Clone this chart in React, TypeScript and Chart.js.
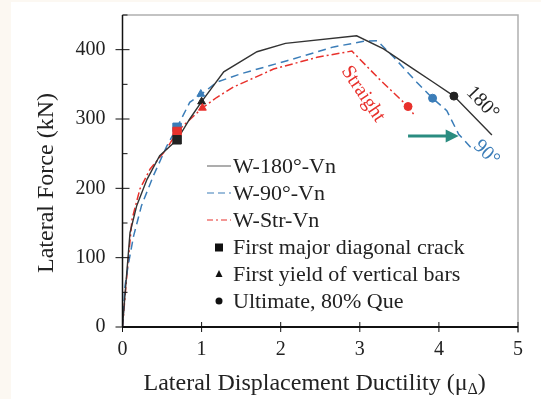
import React, { useEffect, useRef } from "react";
import { Chart, registerables } from "chart.js";
Chart.register(...registerables);

// W-180°-Vn (solid black)
const x180 = [0, 0.03, 0.095, 0.18, 0.31, 0.47, 0.69, 0.85, 1.0, 1.28, 1.7, 2.06, 2.96, 3.3, 3.68, 3.93, 4.19, 4.67];
const y180 = [0, 44, 136, 175, 213, 247, 270, 300, 325, 368, 397, 409, 420, 401, 372, 353, 333, 277];
// W-90°-Vn (dashed blue)
const x90 = [0, 0.03, 0.07, 0.14, 0.24, 0.39, 0.56, 0.69, 0.85, 1.0, 1.19, 1.49, 2.08, 2.67, 3.05, 3.22, 3.43, 3.72, 3.92, 4.1, 4.25, 4.42];
const y90 = [0, 58, 88, 131, 175, 218, 261, 288, 324, 336, 353, 365, 384, 404, 412, 413, 389, 353, 330, 312, 278, 257];
// W-Str-Vn (dash-dot red)
const xStr = [0, 0.05, 0.12, 0.22, 0.35, 0.56, 0.69, 1.01, 1.19, 1.4, 1.91, 2.46, 2.9, 3.26, 3.61, 3.68];
const yStr = [0, 68, 155, 199, 228, 257, 282, 316, 331, 346, 372, 389, 398, 356, 318, 307];

// markers: [180, 90, Str]
const crackX = [0.69, 0.69, 0.69];
const crackY = [270, 288, 282];
const yieldX = [1.0, 0.99, 1.01];
const yieldY = [325, 336, 316];
const ultX = [4.19, 3.92, 3.61];
const ultY = [333, 330, 318];

const xTicks = [0, 1, 2, 3, 4, 5];
const yLabelTicks = [0, 100, 200, 300, 400];

const BLACK = "#333333";
const BLUE = "#3b7db8";
const RED = "#e8312c";
const TEAL = "#2a8c80";
const SERIF = "'Liberation Serif', 'Times New Roman', serif";

const pts = (xs: number[], ys: number[]) => xs.map((x, i) => ({ x, y: ys[i] }));

const drawPlugin = {
  id: "custom",
  beforeDraw(chart: any) {
    const ctx = chart.ctx;
    ctx.save();
    ctx.fillStyle = "#ffffff";
    ctx.fillRect(0, 0, chart.width, chart.height);
    ctx.fillStyle = "#fcf8f2";
    ctx.fillRect(0, 0, 11, chart.height);
    ctx.fillRect(0, 0, chart.width, 2);
    ctx.restore();
  },
  afterDraw(chart: any) {
    const ctx = chart.ctx;
    const xs = chart.scales.x;
    const ys = chart.scales.y;
    const a = chart.chartArea;
    ctx.save();
    // frame top/right
    ctx.strokeStyle = "#b0b0b0";
    ctx.lineWidth = 1.5;
    ctx.beginPath();
    ctx.moveTo(a.left, a.top);
    ctx.lineTo(a.right, a.top);
    ctx.lineTo(a.right, a.bottom + 6);
    ctx.stroke();
    // axes
    ctx.strokeStyle = "#111";
    ctx.lineWidth = 1.5;
    ctx.beginPath();
    ctx.moveTo(a.left, a.top);
    ctx.lineTo(a.left, a.bottom);
    ctx.stroke();
    ctx.lineWidth = 2.2;
    ctx.beginPath();
    ctx.moveTo(a.left, a.bottom);
    ctx.lineTo(a.right, a.bottom);
    ctx.stroke();
    // ticks
    ctx.lineWidth = 1;
    ctx.strokeStyle = "#111";
    for (const t of xTicks) {
      const px = xs.getPixelForValue(t);
      ctx.beginPath();
      ctx.moveTo(px, a.bottom - 5);
      ctx.lineTo(px, a.bottom + 5);
      ctx.stroke();
    }
    for (let v = 0; v <= 450; v += 50) {
      const py = ys.getPixelForValue(v);
      ctx.beginPath();
      if (v % 100 === 0) {
        ctx.moveTo(a.left - 7, py);
        ctx.lineTo(a.left + 7, py);
      } else {
        ctx.moveTo(a.left, py);
        ctx.lineTo(a.left + 5, py);
      }
      ctx.stroke();
    }
    // arrow
    const ay = ys.getPixelForValue(275.5);
    const ax0 = xs.getPixelForValue(3.61);
    const ax1 = xs.getPixelForValue(4.25);
    ctx.strokeStyle = TEAL;
    ctx.fillStyle = TEAL;
    ctx.lineWidth = 3;
    ctx.beginPath();
    ctx.moveTo(ax0, ay);
    ctx.lineTo(ax1 - 8, ay);
    ctx.stroke();
    ctx.beginPath();
    ctx.moveTo(ax1, ay);
    ctx.lineTo(ax1 - 13, ay - 6.5);
    ctx.lineTo(ax1 - 13, ay + 6.5);
    ctx.closePath();
    ctx.fill();

    // annotations
    const rotText = (txt: string, x: number, y: number, ang: number, color: string, size: number) => {
      ctx.save();
      ctx.translate(x, y);
      ctx.rotate((ang * Math.PI) / 180);
      ctx.fillStyle = color;
      ctx.font = `${size}px ${SERIF}`;
      ctx.textAlign = "center";
      ctx.textBaseline = "middle";
      ctx.fillText(txt, 0, 0);
      ctx.restore();
    };
    rotText("Straight", xs.getPixelForValue(3.04), ys.getPixelForValue(336), 56, RED, 20);
    rotText("180°", xs.getPixelForValue(4.55), ys.getPixelForValue(323), 46, "#222", 20);
    rotText("90°", xs.getPixelForValue(4.6), ys.getPixelForValue(251), 44, BLUE, 20);

    // legend
    const lx0 = 207, lx1 = 231, tx = 233, mx = 219;
    const rows = [166, 193, 220, 247.5, 274, 301];
    ctx.font = `22px ${SERIF}`;
    ctx.fillStyle = "#222";
    ctx.textAlign = "left";
    ctx.textBaseline = "middle";
    const lines = [
      { c: "#777", dash: [] as number[], t: "W-180°-Vn" },
      { c: BLUE, dash: [7, 4], t: "W-90°-Vn" },
      { c: RED, dash: [6, 3, 2, 3], t: "W-Str-Vn" },
    ];
    lines.forEach((l, i) => {
      ctx.save();
      ctx.strokeStyle = l.c;
      ctx.lineWidth = 1.2;
      ctx.setLineDash(l.dash);
      ctx.beginPath();
      ctx.moveTo(lx0, rows[i]);
      ctx.lineTo(lx1, rows[i]);
      ctx.stroke();
      ctx.restore();
      ctx.fillStyle = "#222";
      ctx.fillText(l.t, tx, rows[i] + 1);
    });
    ctx.fillStyle = "#111";
    ctx.fillRect(mx - 4, rows[3] - 4, 8, 8);
    ctx.beginPath();
    ctx.moveTo(mx, rows[4] - 4);
    ctx.lineTo(mx + 3.5, rows[4] + 3);
    ctx.lineTo(mx - 3.5, rows[4] + 3);
    ctx.closePath();
    ctx.fill();
    ctx.beginPath();
    ctx.arc(mx, rows[5], 3.5, 0, Math.PI * 2);
    ctx.fill();
    ctx.fillStyle = "#222";
    ctx.fillText("First major diagonal crack", tx, rows[3] + 1);
    ctx.fillText("First yield of vertical bars", tx, rows[4] + 1);
    ctx.fillText("Ultimate, 80% Que", tx, rows[5] + 1);

    // axis titles
    ctx.fillStyle = "#222";
    ctx.textAlign = "left";
    ctx.textBaseline = "alphabetic";
    const main = "Lateral Displacement Ductility (μ";
    const sub = "Δ";
    const close = ")";
    ctx.font = `24px ${SERIF}`;
    const wMain = ctx.measureText(main).width;
    ctx.font = `16px ${SERIF}`;
    const wSub = ctx.measureText(sub).width;
    const by = 390;
    const sx = 143.5;
    ctx.font = `24px ${SERIF}`;
    ctx.fillText(main, sx, by);
    ctx.font = `16px ${SERIF}`;
    ctx.fillText(sub, sx + wMain, by + 4);
    ctx.font = `24px ${SERIF}`;
    ctx.fillText(close, sx + wMain + wSub, by);

    ctx.save();
    ctx.translate(47, 183);
    ctx.rotate(-Math.PI / 2);
    ctx.textAlign = "center";
    ctx.textBaseline = "middle";
    ctx.fillText("Lateral Force (kN)", 0, 0);
    ctx.restore();
    ctx.restore();
  },
};

export default function App() {
  const ref = useRef<HTMLCanvasElement>(null);
  useEffect(() => {
    if (!ref.current) return;
    const chart = new Chart(ref.current, {
      type: "scatter",
      data: {
        datasets: [
          { label: "W-180°-Vn", data: pts(x180, y180), showLine: true, borderColor: BLACK, borderWidth: 1.4, pointRadius: 0, fill: false, order: 3 },
          { label: "W-90°-Vn", data: pts(x90, y90), showLine: true, borderColor: BLUE, borderWidth: 1.5, borderDash: [8, 5], pointRadius: 0, fill: false, order: 4 },
          { label: "W-Str-Vn", data: pts(xStr, yStr), showLine: true, borderColor: RED, borderWidth: 1.5, borderDash: [8, 3, 2, 3], pointRadius: 0, fill: false, order: 5 },
          { label: "crack-90", data: [{ x: crackX[1], y: crackY[1] }], pointStyle: "rect", pointRadius: 6, backgroundColor: BLUE, borderColor: BLUE, order: 2 },
          { label: "crack-str", data: [{ x: crackX[2], y: crackY[2] }], pointStyle: "rect", pointRadius: 6, backgroundColor: RED, borderColor: RED, order: 1 },
          { label: "crack-180", data: [{ x: crackX[0], y: crackY[0] }], pointStyle: "rect", pointRadius: 6, backgroundColor: "#222", borderColor: "#222", order: 0 },
          { label: "yield", data: pts(yieldX, yieldY), pointStyle: "triangle", pointRadius: 4.5, backgroundColor: ["#222", BLUE, RED], borderColor: ["#222", BLUE, RED], order: 0 },
          { label: "ult", data: pts(ultX, ultY), pointStyle: "circle", pointRadius: 4, backgroundColor: ["#222", BLUE, RED], borderColor: ["#222", BLUE, RED], order: 0 },
        ],
      },
      options: {
        responsive: false,
        animation: false,
        layout: { padding: { left: 0, right: 23, top: 15, bottom: 0 } },
        plugins: { legend: { display: false }, tooltip: { enabled: false } },
        scales: {
          x: {
            type: "linear",
            min: 0,
            max: 5,
            grid: { display: false, drawTicks: false },
            border: { display: false },
            afterFit: (s: any) => { s.height = 72; s.paddingLeft = 0; s.paddingRight = 0; },
            ticks: { stepSize: 1, padding: 11, color: "#222", font: { family: SERIF, size: 20 } },
          },
          y: {
            type: "linear",
            min: 0,
            max: 450,
            grid: { display: false, drawTicks: false },
            border: { display: false },
            afterFit: (s: any) => { s.width = 122.5; s.paddingTop = 0; s.paddingBottom = 0; },
            ticks: {
              stepSize: 50,
              padding: 17,
              color: "#222",
              font: { family: SERIF, size: 20 },
              callback: (v: any) => (yLabelTicks.includes(Number(v)) ? String(v) : ""),
            },
          },
        },
      },
      plugins: [drawPlugin],
    });
    return () => chart.destroy();
  }, []);
  return (
    <div style={{ position: "fixed", left: 0, top: 0, width: 541, height: 399, background: "#fff" }}>
      <canvas ref={ref} width={541} height={399} style={{ width: 541, height: 399, display: "block" }} />
    </div>
  );
}
